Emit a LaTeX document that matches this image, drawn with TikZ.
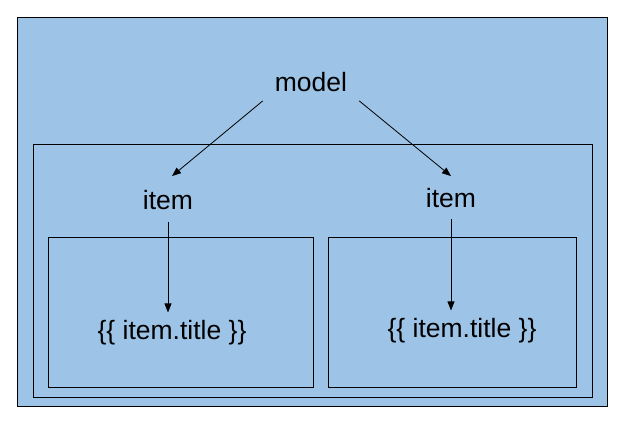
\documentclass[tikz,border=0pt]{standalone}
\usepackage{fontspec}
\setmainfont{Liberation Sans}
\usetikzlibrary{arrows.meta, positioning, calc}
\definecolor{panelblue}{RGB}{157, 195, 230}

\begin{document}
\begin{tikzpicture}[x=1pt, y=-1pt,
    box/.style={draw=black, line width=1pt},
    lbl/.style={font=\fontsize{26.5}{30}\selectfont, inner sep=2pt},
    conn/.style={draw=black, line width=0.8pt, -{Triangle[length=9pt, width=7pt]}}]
    \useasboundingbox (0,0) rectangle (624,422);

    % Outer panel and containers
    \draw[box, fill=panelblue] (17,18) rectangle (607,406);
    \draw[box] (33,145) rectangle (592,397);
    \draw[box] (48,238) rectangle (313,387);
    \draw[box] (328,238) rectangle (576,387);

    % Labels
    \node[lbl] (model) at (311,82) {model};
    \node[lbl] (item1) at (168,200) {item};
    \node[lbl] (item2) at (451,198) {item};
    \node[lbl] (title1) at (172,333) {\{\{ item.title \}\}};
    \node[lbl] (title2) at (462,331) {\{\{ item.title \}\}};

    % Connectors
    \draw[conn] ([shift={(-10,7)}]model.south west) -- ([shift={(4,-12)}]item1.north);
    \draw[conn] ([shift={(10,7)}]model.south east) -- ([shift={(0,-10)}]item2.north);
    \draw[conn] ([shift={(0,10)}]item1.south) -- ([shift={(0,-6)}]item1.south |- title1.north);
    \draw[conn] ([shift={(0,9)}]item2.south) -- ([shift={(0,-6)}]item2.south |- title2.north);
\end{tikzpicture}
\end{document}
